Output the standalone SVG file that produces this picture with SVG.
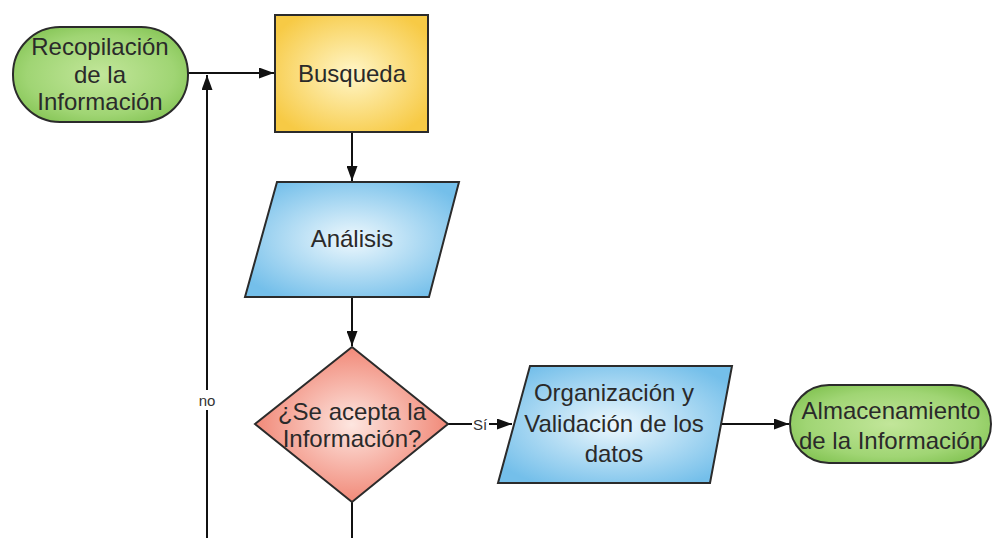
<svg xmlns="http://www.w3.org/2000/svg" width="993" height="538" viewBox="0 0 993 538">
<style>
  .shape { stroke: #2b2b2b; stroke-width: 2; }
  .lbl { font-family: "Liberation Sans", Arial, sans-serif; font-size: 24px; fill: #2a2a2a; text-anchor: middle; dominant-baseline: central; }
  .small { font-family: "Liberation Sans", Arial, sans-serif; font-size: 15px; fill: #333; text-anchor: middle; dominant-baseline: central; }
  .conn { stroke: #111; stroke-width: 2; fill: none; }
</style>
<defs>
  <radialGradient id="gGreen" cx="50%" cy="50%" r="60%">
    <stop offset="0" stop-color="#c2e69a"/>
    <stop offset="0.7" stop-color="#a0d574"/>
    <stop offset="1" stop-color="#84c454"/>
  </radialGradient>
  <radialGradient id="gYellow" cx="50%" cy="50%" r="60%">
    <stop offset="0" stop-color="#fff6c8"/>
    <stop offset="1" stop-color="#f7ca45"/>
  </radialGradient>
  <radialGradient id="gBlue" cx="50%" cy="50%" r="60%">
    <stop offset="0" stop-color="#eef8fd"/>
    <stop offset="1" stop-color="#74bfea"/>
  </radialGradient>
  <radialGradient id="gRed" cx="50%" cy="50%" r="55%">
    <stop offset="0" stop-color="#fde6e0"/>
    <stop offset="1" stop-color="#f0806e"/>
  </radialGradient>
  <marker id="arr" markerWidth="15" markerHeight="11" refX="15" refY="5.5" orient="auto" markerUnits="userSpaceOnUse">
    <path d="M0,0 L15,5.5 L0,11 Z" fill="#111"/>
  </marker>
</defs>

<g id="connectors">
  <line class="conn" x1="188" y1="73" x2="274" y2="73" marker-end="url(#arr)"/>
  <line class="conn" x1="207" y1="538" x2="207" y2="410"/>
  <line class="conn" x1="207" y1="390" x2="207" y2="75" marker-end="url(#arr)"/>
  <line class="conn" x1="352" y1="132" x2="352" y2="181" marker-end="url(#arr)"/>
  <line class="conn" x1="352" y1="297" x2="352" y2="346" marker-end="url(#arr)"/>
  <line class="conn" x1="352" y1="502" x2="352" y2="538"/>
  <line class="conn" x1="448" y1="424" x2="472" y2="424"/>
  <line class="conn" x1="489" y1="424" x2="512" y2="424" marker-end="url(#arr)"/>
  <line class="conn" x1="721" y1="424" x2="789" y2="424" marker-end="url(#arr)"/>
  <text class="small" x="207" y="400">no</text>
  <text class="small" x="480" y="424">Sí</text>
</g>

<g id="recopilacion">
  <rect class="shape" x="13" y="27" width="175" height="95" rx="47" ry="47" fill="url(#gGreen)"/>
  <text class="lbl" x="100" y="46">Recopilación</text>
  <text class="lbl" x="100" y="74">de la</text>
  <text class="lbl" x="100" y="101">Información</text>
</g>

<g id="busqueda">
  <rect class="shape" x="275" y="15" width="153" height="117" fill="url(#gYellow)"/>
  <text class="lbl" x="352" y="73">Busqueda</text>
</g>

<g id="analisis">
  <polygon class="shape" points="277,182 459,182 429,297 245,297" fill="url(#gBlue)"/>
  <text class="lbl" x="352" y="238">Análisis</text>
</g>

<g id="decision">
  <polygon class="shape" points="352,347 448,424 352,502 255,424" fill="url(#gRed)"/>
  <text class="lbl" x="352" y="411">¿Se acepta la</text>
  <text class="lbl" x="352" y="438">Información?</text>
</g>

<g id="organizacion">
  <polygon class="shape" points="530,366 732,366 710,483 498,483" fill="url(#gBlue)"/>
  <text class="lbl" x="614" y="392">Organización y</text>
  <text class="lbl" x="614" y="423">Validación de los</text>
  <text class="lbl" x="614" y="453">datos</text>
</g>

<g id="almacenamiento">
  <rect class="shape" x="790" y="385" width="201" height="78" rx="39" ry="39" fill="url(#gGreen)"/>
  <text class="lbl" x="891" y="410">Almacenamiento</text>
  <text class="lbl" x="891" y="440">de la Información</text>
</g>
</svg>
